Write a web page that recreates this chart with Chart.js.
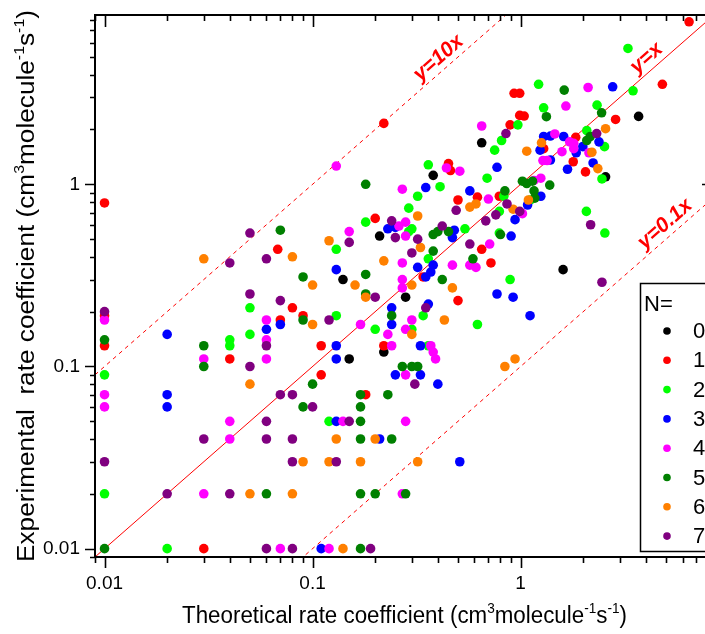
<!DOCTYPE html>
<html>
<head>
<meta charset="utf-8">
<script src="https://cdn.jsdelivr.net/npm/chart.js@4.4.1/dist/chart.umd.min.js"></script>
<style>
  html, body { margin: 0; padding: 0; overflow: hidden; background: #fff; }
  canvas { display: block; }
</style>
</head>
<body>
<canvas id="rateChart" width="730" height="634"></canvas>
<script>
// N = number of ... (legend groups)
const groups = ['0', '1', '2', '3', '4', '5', '6', '7'];
const groupColors = ['#000000', '#ff0000', '#00ff00', '#0000ff', '#ff00ff', '#008000', '#ff8000', '#800080'];

// [theoretical, experimental] pairs
const n0 = [[0.38, 1.12], [0.65, 1.69], [3.69, 2.36], [2.56, 1.1], [1.6, 0.34], [0.21, 0.52], [0.14, 0.3],
    [0.28, 0.24], [0.22, 0.12], [0.15, 0.11]];
const n1 = [[0.01, 0.79], [0.01, 0.19], [0.01, 0.13], [0.04, 0.11], [0.03, 0.01], [0.22, 2.16], [0.45, 1.3],
    [0.46, 1.19], [0.5, 0.82], [0.2, 0.65], [0.068, 0.44], [0.08, 0.21], [0.09, 0.19], [0.07, 0.18], [0.34, 0.31],
    [0.5, 0.23], [0.22, 0.13], [0.11, 0.13], [0.11, 0.09], [0.18, 0.07], [0.93, 3.16], [0.99, 3.16], [0.99, 2.39],
    [1.04, 2.37], [0.89, 2.12], [1.29, 1.57], [0.62, 0.85], [0.79, 0.86], [0.65, 0.44], [0.72, 0.37], [6.45, 7.8],
    [4.8, 3.54], [2.86, 2.27], [1.84, 1.81], [2.05, 1.17], [1.79, 1.33]];
const n2 = [[0.01, 0.09], [0.01, 0.02], [0.02, 0.01], [0.04, 0.14], [0.04, 0.13], [0.05, 0.21], [0.05, 0.15],
    [0.12, 0.05], [0.29, 0.74], [0.18, 0.62], [0.29, 0.55], [0.3, 0.57], [0.54, 0.57], [0.13, 0.44], [0.36, 0.39],
    [0.13, 0.19], [0.2, 0.16], [0.34, 0.19], [0.3, 0.16], [0.36, 0.13], [0.36, 1.28], [0.41, 0.97], [0.32, 0.86],
    [1.29, 2.63], [0.97, 2.12], [0.81, 1.74], [0.75, 1.54], [0.69, 1.08], [0.83, 0.86], [1.11, 0.82], [0.79, 0.71],
    [0.79, 0.54], [3.28, 5.57], [3.47, 3.26], [1.22, 3.54], [2.33, 2.72], [2.08, 1.97], [2.53, 1.61], [2.46, 1.07],
    [2.07, 0.71], [2.54, 0.54], [0.89, 0.3], [0.62, 0.17]];
const n3 = [[0.02, 0.15], [0.02, 0.07], [0.02, 0.06], [0.13, 0.05], [0.21, 0.04], [0.51, 0.03], [0.11, 0.01],
    [0.23, 0.57], [0.25, 0.58], [0.48, 0.56], [0.47, 0.51], [0.38, 0.36], [0.37, 0.33], [0.35, 0.31], [0.32, 0.35],
    [0.13, 0.34], [0.06, 0.16], [0.07, 0.17], [0.24, 0.21], [0.24, 0.17], [0.36, 0.22], [0.33, 0.13], [0.13, 0.13],
    [0.13, 0.11], [0.25, 0.09], [0.33, 0.09], [0.4, 0.08], [0.35, 0.96], [0.57, 0.92], [0.77, 1.24], [1.29, 1.83],
    [1.24, 1.54], [1.25, 0.86], [1.08, 0.77], [0.94, 0.64], [0.9, 0.52], [2.77, 3.43], [1.39, 1.84], [1.61, 1.83],
    [1.99, 1.61], [1.85, 1.49], [2.38, 1.71], [2.23, 1.31], [1.68, 1.21], [1.39, 1.36], [0.77, 0.25], [0.92, 0.24],
    [1.11, 0.19]];
const n4 = [[0.01, 0.18], [0.01, 0.07], [0.01, 0.06], [0.03, 0.11], [0.04, 0.05], [0.04, 0.04], [0.03, 0.02],
    [0.14, 0.05], [0.28, 0.05], [0.07, 0.01], [0.12, 0.01], [0.27, 0.02], [0.13, 1.26], [0.44, 1.23], [0.51, 1.18],
    [0.27, 0.94], [0.26, 0.59], [0.28, 0.62], [0.15, 0.55], [0.28, 0.52], [0.27, 0.37], [0.47, 0.36], [0.57, 0.36],
    [0.61, 0.35], [0.27, 0.3], [0.27, 0.27], [0.06, 0.18], [0.06, 0.14], [0.06, 0.11], [0.17, 0.17], [0.3, 0.18],
    [0.28, 0.16], [0.23, 0.15], [0.24, 0.13], [0.37, 0.13], [0.38, 0.12], [0.39, 0.11], [0.28, 0.09], [0.65, 2.09],
    [1.28, 1.35], [1.34, 1.35], [1.16, 1.05], [1.25, 1.08], [0.7, 0.83], [1.02, 0.69], [0.71, 0.47], [1.65, 2.69],
    [2.11, 3.4], [1.46, 1.89], [1.72, 1.71], [1.8, 1.68], [1.8, 1.57], [1.58, 1.51], [2.13, 1.49]];
const n5 = [[0.01, 0.14], [0.01, 0.01], [0.03, 0.13], [0.03, 0.1], [0.06, 0.02], [0.17, 0.05], [0.17, 0.04],
    [0.24, 0.04], [0.17, 0.02], [0.2, 0.02], [0.28, 0.02], [0.17, 0.01], [0.18, 1.0], [0.07, 0.56], [0.38, 0.53],
    [0.4, 0.55], [0.45, 0.55], [0.38, 0.43], [0.42, 0.3], [0.09, 0.31], [0.18, 0.32], [0.18, 0.25], [0.09, 0.18],
    [0.24, 0.19], [0.1, 0.08], [0.09, 0.06], [0.17, 0.07], [0.17, 0.06], [0.23, 0.07], [0.27, 0.1], [0.3, 0.1],
    [0.32, 0.1], [1.33, 2.35], [0.84, 0.92], [1.02, 1.04], [1.07, 1.01], [1.14, 1.04], [1.16, 0.92], [1.38, 0.99],
    [1.17, 0.84], [0.8, 0.53], [0.59, 0.39], [1.62, 3.29], [2.45, 2.47], [2.16, 1.83], [2.08, 1.74]];
const n6 = [[0.03, 0.39], [0.13, 0.04], [0.2, 0.04], [0.09, 0.03], [0.12, 0.03], [0.17, 0.03], [0.32, 0.03],
    [0.05, 0.02], [0.08, 0.02], [0.14, 0.01], [0.32, 0.67], [0.12, 0.49], [0.08, 0.4], [0.33, 0.45], [0.22, 0.38],
    [0.47, 0.27], [0.1, 0.28], [0.16, 0.28], [0.18, 0.24], [0.3, 0.28], [0.1, 0.17], [0.05, 0.08], [0.43, 0.18],
    [0.3, 0.15], [0.57, 0.75], [0.61, 0.78], [1.26, 1.69], [1.07, 1.52], [1.09, 0.82], [0.92, 0.73], [2.56, 2.02],
    [2.2, 1.5], [2.35, 1.22], [0.84, 0.1], [0.94, 0.11]];
const n7 = [[0.01, 0.2], [0.04, 0.37], [0.03, 0.04], [0.01, 0.03], [0.02, 0.02], [0.04, 0.02], [0.06, 0.05],
    [0.15, 0.05], [0.06, 0.04], [0.08, 0.04], [0.08, 0.03], [0.13, 0.03], [0.06, 0.01], [0.08, 0.01], [0.19, 0.01],
    [0.24, 0.63], [0.49, 0.72], [0.05, 0.54], [0.25, 0.51], [0.32, 0.5], [0.42, 0.59], [0.15, 0.48], [0.06, 0.39],
    [0.3, 0.42], [0.2, 0.24], [0.05, 0.25], [0.07, 0.23], [0.12, 0.18], [0.06, 0.13], [0.05, 0.1], [0.35, 0.21],
    [0.31, 0.08], [0.07, 0.07], [0.08, 0.07], [0.1, 0.06], [0.85, 1.9], [0.86, 0.78], [0.99, 0.71], [0.76, 0.68],
    [0.68, 0.63], [0.57, 0.47], [2.32, 1.9], [2.17, 0.6], [2.46, 0.29]];
const seriesData = [n0, n1, n2, n3, n4, n5, n6, n7];

const xRange = [0.009, 8.5];
const yRange = [0.009, 8.5];
const tickLabels = ['0.01', '0.1', '1'];

// reference lines y = k*x
const lineFactors = [10, 1, 0.1];
const lineNames = ['y=10x', 'y=x', 'y=0.1x'];
const lineLabelAt = [0.44, 4.4, 5.4];

const FONT = '"Liberation Sans", Arial, sans-serif';

const tickText = v => {
    const e = Math.log10(v);
    if (Math.abs(e - Math.round(e)) > 1e-6) return '';
    return tickLabels.find(t => Math.abs(Math.log10(parseFloat(t)) - e) < 1e-6) || '';
};

// text with superscripts, squeezed to a given width
function drawRich(ctx, parts, cx, cy, angle, width, size) {
    const big = size + 'px ' + FONT;
    const small = Math.round(size * 0.6) + 'px ' + FONT;
    ctx.save();
    ctx.translate(cx, cy);
    ctx.rotate(angle);
    let natural = 0;
    parts.forEach(p => { ctx.font = p[1] ? small : big; natural += ctx.measureText(p[0]).width; });
    ctx.scale(width / natural, 1);
    ctx.fillStyle = '#000';
    ctx.textBaseline = 'alphabetic';
    ctx.textAlign = 'left';
    let x = -natural / 2;
    parts.forEach(p => {
        ctx.font = p[1] ? small : big;
        ctx.fillText(p[0], x, p[1] ? -size * 0.45 : 0);
        x += ctx.measureText(p[0]).width;
    });
    ctx.restore();
}

const unitParts = [['(cm', 0], ['3', 1], ['molecule', 0], ['-1', 1], ['s', 0], ['-1', 1], [')', 0]];

function tickValues(scale) {
    const out = [];
    for (let e = Math.floor(Math.log10(scale.min)); e <= Math.ceil(Math.log10(scale.max)); e++) {
        for (let s = 1; s <= 9; s++) {
            const v = s * Math.pow(10, e);
            if (v >= scale.min * 0.999 && v <= scale.max * 1.001) out.push([v, s === 1]);
        }
    }
    return out;
}

const framePlugin = {
    id: 'frame',
    afterDatasetsDraw(chart) {
        const { ctx, chartArea: a, scales: { x, y } } = chart;
        ctx.save();
        ctx.strokeStyle = '#000';
        ctx.lineWidth = 2;
        ctx.strokeRect(a.left, a.top, a.right - a.left, a.bottom - a.top);

        ctx.lineWidth = 1.6;
        ctx.beginPath();
        tickValues(x).forEach(([v, major]) => {
            const px = Math.round(x.getPixelForValue(v)) + 0.5;
            ctx.moveTo(px, a.bottom); ctx.lineTo(px, a.bottom + (major ? 11 : 6));
            ctx.moveTo(px, a.top); ctx.lineTo(px, a.top + (major ? 12 : 6));
        });
        tickValues(y).forEach(([v, major]) => {
            const py = Math.round(y.getPixelForValue(v)) + 0.5;
            ctx.moveTo(a.left, py); ctx.lineTo(a.left - (major ? 10 : 5), py);
            ctx.moveTo(a.right, py); ctx.lineTo(a.right - (major ? 12 : 6), py);
        });
        ctx.stroke();

        // legend box (runs off the right edge like the original)
        const lx = 640, ly = 283, lw = 100, lh = 268;
        ctx.fillStyle = '#fff';
        ctx.fillRect(lx, ly, lw, lh);
        ctx.lineWidth = 1.5;
        ctx.strokeRect(lx + 0.5, ly + 0.5, lw, lh);
        ctx.fillStyle = '#000';
        ctx.font = '22px ' + FONT;
        ctx.textBaseline = 'alphabetic';
        ctx.textAlign = 'left';
        ctx.fillText('N=', lx + 4, ly + 28);
        chart.data.datasets.filter(d => d.type === 'scatter').forEach((d, i) => {
            const cy = ly + 48 + i * 29.3;
            ctx.fillStyle = d.backgroundColor;
            ctx.beginPath();
            ctx.arc(lx + 27, cy, 3.8, 0, Math.PI * 2);
            ctx.fill();
            ctx.fillStyle = '#000';
            ctx.textBaseline = 'middle';
            ctx.fillText(d.label, lx + 53, cy + 1);
        });

        // line labels
        const decX = x.getPixelForValue(10) - x.getPixelForValue(1);
        const decY = y.getPixelForValue(1) - y.getPixelForValue(10);
        const ang = -Math.atan2(decY, decX);
        lineFactors.forEach((k, i) => {
            const px = x.getPixelForValue(lineLabelAt[i]);
            const py = y.getPixelForValue(k * lineLabelAt[i]);
            ctx.save();
            ctx.translate(px + 12 * Math.sin(ang), py - 12 * Math.cos(ang));
            ctx.rotate(ang);
            ctx.font = 'italic bold 21px ' + FONT;
            ctx.fillStyle = '#ff0000';
            ctx.textAlign = 'center';
            ctx.textBaseline = 'middle';
            ctx.fillText(lineNames[i], 0, 0);
            ctx.restore();
        });

        // axis titles
        drawRich(ctx, [['Theoretical rate coefficient ', 0]].concat(unitParts),
            (a.left + a.right) / 2, 623, 0, 445, 23);
        drawRich(ctx, [['Experimental  rate coefficient ', 0]].concat(unitParts),
            34, (a.top + a.bottom) / 2, -Math.PI / 2, 552, 23);
        ctx.restore();
    }
};

const datasets = seriesData.map((pts, i) => ({
    type: 'scatter',
    label: groups[i],
    data: pts.map(([x, y]) => ({ x, y })),
    backgroundColor: groupColors[i],
    borderWidth: 0,
    pointRadius: 4.8,
    pointHoverRadius: 4.8,
    order: 8 - i
})).concat(lineFactors.map((k, i) => ({
    type: 'line',
    label: lineNames[i],
    data: xRange.map(x => ({ x, y: k * x })),
    borderColor: '#ff0000',
    borderWidth: 1,
    borderDash: k === 1 ? [] : [4, 4],
    pointRadius: 0,
    fill: false,
    order: 20
})));

new Chart(document.getElementById('rateChart'), {
    type: 'scatter',
    data: { datasets },
    options: {
        responsive: false,
        animation: false,
        layout: { padding: { left: 0, top: 15, right: 16, bottom: 0 } },
        plugins: { legend: { display: false }, tooltip: { enabled: false } },
        scales: {
            x: {
                type: 'logarithmic',
                min: xRange[0], max: xRange[1],
                grid: { display: false, drawTicks: false },
                border: { display: false },
                ticks: { autoSkip: false, maxRotation: 0, padding: 15, color: '#000',
                    font: { family: FONT, size: 19 }, callback: tickText },
                afterFit: s => { s.height = 77; s.paddingLeft = 0; s.paddingRight = 0; }
            },
            y: {
                type: 'logarithmic',
                min: yRange[0], max: yRange[1],
                grid: { display: false, drawTicks: false },
                border: { display: false },
                ticks: { autoSkip: false, padding: 15, color: '#000',
                    font: { family: FONT, size: 19 }, callback: tickText },
                afterFit: s => { s.width = 95; s.paddingTop = 0; s.paddingBottom = 0; }
            }
        }
    },
    plugins: [framePlugin]
});
</script>
</body>
</html>
